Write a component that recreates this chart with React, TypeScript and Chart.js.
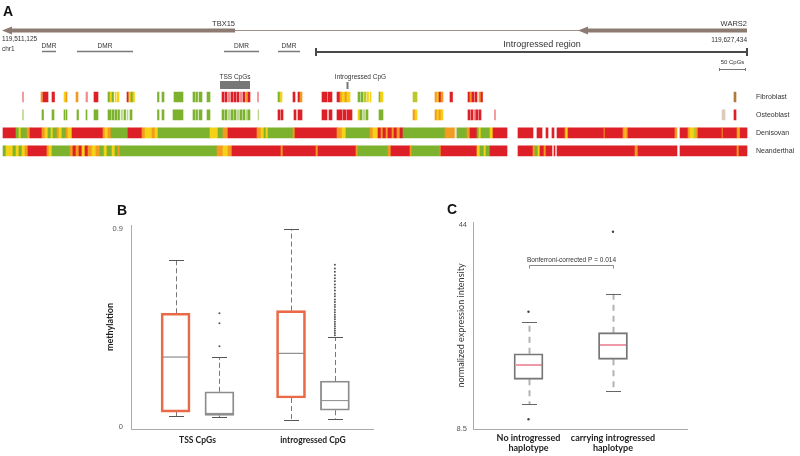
import React, { useEffect, useRef } from 'react';
import { Chart, registerables } from 'chart.js';
Chart.register(...registerables);

// ---------- Panel A data (positions in CpG index along the locus) ----------
type Seg = [number, number, string];
const TRACK_ROWS = ['Fibroblast', 'Osteoblast', 'Denisovan', 'Neanderthal'];
const STATE_COLORS: Record<string, string> = {
  R: '#dd2027', O: '#f39a21', Y: '#f5d217', G: '#7db22e', P: '#f08a8a',
  L: '#bcd88e', K: '#b9c82a', B: '#dccbbd', W: '#e9e6cf', N: '#b07a3a',
};
const FIBROBLAST: Seg[] = [
  [22.5, 23.5, 'P'], [41, 42.5, 'O'], [43, 48, 'R'], [52, 54.5, 'R'], [64, 66, 'Y'], [66, 67, 'O'],
  [76, 78, 'O'], [86, 87.5, 'P'], [94, 98, 'R'], [108, 110, 'G'], [110, 111.5, 'Y'], [112, 113.5, 'G'],
  [115, 116, 'Y'], [117, 119, 'Y'], [127, 128.5, 'R'], [129, 131, 'Y'], [131, 133, 'G'], [133, 134.5, 'Y'],
  [157.5, 159, 'G'], [162, 164, 'G'], [174, 183, 'G'], [193, 195, 'G'], [196, 197.5, 'G'], [199, 202, 'G'],
  [207, 210, 'G'], [222, 224, 'R'], [225, 227, 'R'], [228, 230, 'P'], [231, 233, 'R'], [234, 236, 'R'],
  [237, 239, 'R'], [240, 242, 'P'], [243, 245, 'R'], [246, 247.5, 'O'], [248, 250, 'R'], [257.5, 258.5, 'P'],
  [278, 280, 'G'], [280, 282, 'Y'], [293, 295, 'R'], [298, 300, 'R'], [300, 302, 'O'], [322, 327, 'R'],
  [328, 332, 'R'], [337, 340, 'R'], [340, 342, 'O'], [342, 345, 'Y'], [345, 347, 'O'], [347, 350, 'Y'],
  [358, 360, 'G'], [361, 363, 'G'], [364, 366, 'K'], [367, 368.5, 'Y'], [370, 371, 'Y'], [379, 380.5, 'G'],
  [380.5, 383, 'Y'], [413, 417, 'K'], [435, 437, 'O'], [437, 439, 'Y'], [439, 441, 'R'], [441, 443, 'O'],
  [450, 452.5, 'R'], [468, 470, 'R'], [470, 472, 'O'], [472, 474, 'R'], [475, 477, 'R'], [479, 481, 'O'],
  [481, 482.5, 'R'], [734, 736, 'N'],
];
const OSTEOBLAST: Seg[] = [
  [22.5, 23.5, 'L'], [42, 43.5, 'G'], [52, 54, 'G'], [64, 65, 'G'], [66, 67, 'G'], [77, 78.5, 'G'],
  [86, 87, 'G'], [94, 98, 'G'], [108, 111, 'G'], [112, 114, 'G'], [115, 117, 'G'], [118, 119.5, 'G'],
  [121, 122.5, 'L'], [124, 125.5, 'G'], [127, 128, 'L'], [130, 132, 'G'], [157.5, 159, 'G'], [162, 164, 'G'],
  [173, 183, 'G'], [193, 195, 'G'], [196, 197.5, 'G'], [199, 202, 'G'], [207, 210, 'G'], [222, 224, 'G'],
  [225, 227, 'G'], [228, 230, 'L'], [231, 233, 'G'], [234, 236, 'G'], [237, 239, 'L'], [240, 242, 'G'],
  [243, 245, 'G'], [246, 247.5, 'L'], [248, 250, 'G'], [258, 258.8, 'L'], [278, 280, 'R'], [281, 283, 'R'],
  [294, 296, 'R'], [298, 302, 'R'], [322, 327, 'R'], [329, 332, 'R'], [337, 340, 'R'], [340, 342, 'R'],
  [343, 346, 'R'], [347, 352, 'R'], [358, 360, 'Y'], [360, 362, 'G'], [363, 365, 'L'], [366, 368, 'G'],
  [379, 383, 'G'], [413, 415, 'O'], [415, 417, 'Y'], [435, 437, 'O'], [437, 439, 'Y'], [439, 441, 'O'],
  [441, 443, 'Y'], [468, 470, 'R'], [471, 473, 'R'], [474, 476, 'P'], [476, 478, 'R'], [479, 481, 'R'],
  [494.5, 495.5, 'P'], [722, 725, 'B'], [734, 736, 'R'],
];
const DENISOVAN: Seg[] = [
  [3, 16, 'R'], [16, 19, 'G'], [19, 21, 'Y'], [21, 27, 'G'], [27, 30, 'O'], [30, 42, 'R'], [42, 45, 'O'],
  [45, 48, 'Y'], [48, 51, 'G'], [51, 53, 'Y'], [53, 57, 'G'], [57, 59, 'O'], [59, 62, 'Y'], [62, 66, 'G'],
  [66, 68, 'O'], [68, 72, 'Y'], [72, 103, 'R'], [103, 105, 'O'], [105, 108, 'Y'], [108, 111, 'O'],
  [111, 128, 'G'], [128, 142, 'R'], [142, 145, 'O'], [145, 152, 'Y'], [152, 155, 'O'], [155, 158, 'Y'],
  [158, 210, 'G'], [210, 218, 'Y'], [218, 223, 'G'], [223, 228, 'O'], [228, 257, 'R'], [257, 261, 'O'],
  [261, 264, 'Y'], [264, 266, 'G'], [266, 268, 'Y'], [268, 293, 'G'], [293, 295, 'O'], [295, 337, 'R'],
  [337, 342, 'O'], [342, 346, 'Y'], [346, 370, 'G'], [370, 373, 'O'], [373, 378, 'Y'], [378, 381, 'R'],
  [381, 383, 'O'], [383, 386, 'R'], [386, 388, 'O'], [388, 392, 'R'], [392, 394, 'O'], [394, 397, 'R'],
  [397, 400, 'O'], [400, 403, 'R'], [403, 445, 'G'], [445, 455, 'O'], [455, 457, 'W'], [457, 467, 'G'],
  [467, 470, 'O'], [470, 477, 'R'], [477, 479, 'G'], [479, 481, 'Y'], [481, 490, 'G'], [490, 493, 'Y'],
  [493, 507, 'R'], [518, 533, 'R'], [537, 542, 'R'], [546, 548, 'R'], [552, 554, 'R'], [557, 565, 'R'],
  [565, 566, 'O'], [566, 568, 'Y'], [568, 604, 'R'], [604, 605, 'O'], [605, 623, 'R'], [623, 625, 'O'],
  [625, 626, 'Y'], [626, 628, 'O'], [628, 675, 'R'], [675, 677, 'O'], [680, 688, 'R'], [688, 690, 'O'],
  [690, 694, 'Y'], [694, 696, 'K'], [696, 698, 'O'], [698, 722, 'R'], [722, 723, 'O'], [723, 737, 'R'],
  [737, 739, 'O'], [739, 740, 'Y'], [740, 747, 'R'],
];
const NEANDERTHAL: Seg[] = [
  [3, 6, 'G'], [6, 13, 'Y'], [13, 16, 'G'], [16, 19, 'Y'], [19, 22, 'G'], [22, 25, 'Y'], [25, 28, 'O'],
  [28, 47, 'R'], [47, 49, 'O'], [49, 52, 'Y'], [52, 70, 'G'], [70, 73, 'O'], [73, 76, 'R'], [76, 79, 'O'],
  [79, 82, 'R'], [82, 85, 'Y'], [85, 88, 'R'], [88, 92, 'O'], [92, 96, 'Y'], [96, 100, 'O'], [100, 104, 'G'],
  [104, 107, 'Y'], [107, 112, 'G'], [112, 115, 'Y'], [115, 118, 'G'], [118, 120, 'O'], [120, 217, 'G'],
  [217, 223, 'O'], [223, 228, 'Y'], [228, 232, 'O'], [232, 281, 'R'], [281, 283, 'O'], [283, 316, 'R'],
  [316, 318, 'O'], [318, 356, 'R'], [356, 358, 'O'], [358, 388, 'G'], [388, 391, 'O'], [391, 410, 'R'],
  [410, 412, 'O'], [412, 440, 'G'], [440, 441, 'O'], [441, 477, 'R'], [477, 480, 'Y'], [480, 484, 'G'],
  [484, 486, 'Y'], [486, 490, 'G'], [490, 507, 'R'], [518, 533, 'R'], [533, 535, 'O'], [535, 538, 'G'],
  [538, 540, 'Y'], [540, 544, 'R'], [544, 546, 'O'], [546, 552, 'R'], [554, 555, 'R'], [557, 635, 'R'],
  [635, 638, 'O'], [638, 677, 'R'], [680, 737, 'R'], [737, 739, 'O'], [739, 747, 'R'],
];
const TRACK_DATA: Seg[][] = [FIBROBLAST, OSTEOBLAST, DENISOVAN, NEANDERTHAL];

const GENES = [
  { name: 'TBX15', start: 3, end: 235 },
  { name: 'WARS2', start: 579, end: 747 },
];
const DMRS: [number, number][] = [[42, 56], [77, 133], [224, 259], [278, 300]];
const INTROGRESSED_REGION: [number, number] = [316, 747];
const TSS_CPGS: [number, number] = [220, 250];
const INTROGRESSED_CPG = 347.5;
const SCALE_BAR: [number, number] = [719, 746];
const COORD_START = '119,511,125';
const COORD_END = '119,627,434';
const CHROM = 'chr1';

// ---------- Panel B data: [whiskerLow, q1, median, q3, whiskerHigh] ----------
const B_CATEGORIES = ['TSS CpGs', 'introgressed CpG'];
const B_ORANGE = [
  [0.049, 0.068, 0.318, 0.517, 0.759],
  [0.032, 0.132, 0.335, 0.529, 0.9],
];
const B_GRAY = [
  [0.044, 0.053, 0.062, 0.16, 0.317],
  [0.035, 0.076, 0.12, 0.209, 0.409],
];
const B_OUTLIERS_TSS = [0.367, 0.471, 0.517];
const B_OUTLIERS_INTRO = [
  0.417, 0.427, 0.437, 0.448, 0.458, 0.468, 0.478, 0.49, 0.5, 0.51, 0.522, 0.533, 0.545, 0.556,
  0.568, 0.58, 0.594, 0.606, 0.62, 0.634, 0.648, 0.662, 0.676, 0.69, 0.705, 0.72, 0.737,
];
const B_TICKS = [0, 0.9];

// ---------- Panel C data ----------
const C_CATEGORIES = [['No introgressed', 'haplotype'], ['carrying introgressed', 'haplotype']];
const C_BOXES = [
  [12.75, 17.11, 19.6, 21.57, 27.15],
  [15.07, 20.59, 23.09, 25.23, 32.03],
];
const C_OUTLIERS = [[28.89, 10.14], [42.83]];
const C_TICKS = [8.5, 44];
const C_PVALUE_LABEL = 'Bonferroni-corrected P = 0.014';
const C_BRACKET_Y = 37;

const SANS = '"Liberation Sans", Arial, sans-serif';
const LATO = 'Lato, "Open Sans", sans-serif';

type BoxDef = { pos: number; s: number[]; width: number; median: string; medianWidth: number; whisker: string; whiskerWidth: number; dash: number[]; cap: string; capWidth: number };

function drawBoxes(chart: any, boxes: BoxDef[]) {
  const ctx = chart.ctx;
  const xs = chart.scales.x;
  const ys = chart.scales.y;
  ctx.save();
  for (const b of boxes) {
    const cx = Math.round(xs.getPixelForValue(b.pos)) + 0.5;
    const [lo, q1, med, q3, hi] = b.s.map((v: number) => ys.getPixelForValue(v));
    ctx.strokeStyle = b.whisker;
    ctx.lineWidth = b.whiskerWidth;
    ctx.setLineDash(b.dash);
    ctx.beginPath();
    ctx.moveTo(cx, q3); ctx.lineTo(cx, hi);
    ctx.moveTo(cx, q1); ctx.lineTo(cx, lo);
    ctx.stroke();
    ctx.setLineDash([]);
    ctx.strokeStyle = b.cap;
    ctx.lineWidth = 1;
    ctx.beginPath();
    ctx.moveTo(cx - b.capWidth / 2, Math.round(hi) + 0.5); ctx.lineTo(cx + b.capWidth / 2, Math.round(hi) + 0.5);
    ctx.moveTo(cx - b.capWidth / 2, Math.round(lo) + 0.5); ctx.lineTo(cx + b.capWidth / 2, Math.round(lo) + 0.5);
    ctx.stroke();
    ctx.strokeStyle = b.median;
    ctx.lineWidth = b.medianWidth;
    ctx.beginPath();
    ctx.moveTo(cx - b.width / 2 + 1, med); ctx.lineTo(cx + b.width / 2 - 1, med);
    ctx.stroke();
  }
  ctx.restore();
}

export default function App() {
  const refA = useRef<HTMLCanvasElement>(null);
  const refB = useRef<HTMLCanvasElement>(null);
  const refC = useRef<HTMLCanvasElement>(null);

  useEffect(() => {
    // ---------------- Panel A ----------------
    const trackPlugin = {
      id: 'trackAnnotations',
      afterDraw(chart: any) {
        const ctx = chart.ctx;
        const xs = chart.scales.x;
        const px = (v: number) => xs.getPixelForValue(v);
        ctx.save();
        ctx.fillStyle = '#111';
        ctx.font = `bold 14px ${SANS}`;
        ctx.textAlign = 'left';
        ctx.textBaseline = 'alphabetic';
        ctx.fillText('A', 3, 16);

        ctx.strokeStyle = '#a09088';
        ctx.lineWidth = 1;
        ctx.beginPath();
        ctx.moveTo(px(GENES[0].start), 30.5);
        ctx.lineTo(px(GENES[GENES.length - 1].end), 30.5);
        ctx.stroke();

        for (const g of GENES) {
          const x0 = px(g.start), x1 = px(g.end);
          ctx.fillStyle = '#8c7b72';
          ctx.fillRect(x0 + 8, 28.5, x1 - x0 - 8, 4);
          ctx.beginPath();
          ctx.moveTo(x0 - 1, 30.5);
          ctx.lineTo(x0 + 9, 26.5);
          ctx.lineTo(x0 + 9, 34.5);
          ctx.closePath();
          ctx.fill();
          ctx.fillStyle = '#333';
          ctx.font = `7.5px ${SANS}`;
          ctx.textAlign = 'right';
          ctx.fillText(g.name, x1, 25.5);
        }

        ctx.fillStyle = '#333';
        ctx.font = `6.5px ${SANS}`;
        ctx.textAlign = 'left';
        ctx.fillText(COORD_START, px(GENES[0].start) - 1, 41);
        ctx.fillText(CHROM, px(GENES[0].start) - 1, 51);
        ctx.textAlign = 'right';
        ctx.fillText(COORD_END, px(GENES[GENES.length - 1].end), 42);

        ctx.strokeStyle = '#7a7a7a';
        ctx.lineWidth = 1.5;
        ctx.font = `6.5px ${SANS}`;
        ctx.textAlign = 'center';
        for (const [a, b] of DMRS) {
          ctx.beginPath();
          ctx.moveTo(px(a), 51.5);
          ctx.lineTo(px(b), 51.5);
          ctx.stroke();
          ctx.fillText('DMR', (px(a) + px(b)) / 2, 48);
        }

        const r0 = px(INTROGRESSED_REGION[0]), r1 = px(INTROGRESSED_REGION[1]);
        ctx.strokeStyle = '#4a4a4a';
        ctx.lineWidth = 2;
        ctx.beginPath();
        ctx.moveTo(r0, 52); ctx.lineTo(r1, 52);
        ctx.moveTo(r0, 48); ctx.lineTo(r0, 56);
        ctx.moveTo(r1, 48); ctx.lineTo(r1, 56);
        ctx.stroke();
        ctx.fillStyle = '#333';
        ctx.font = `9px ${SANS}`;
        ctx.textAlign = 'center';
        ctx.fillText('Introgressed region', 542, 47);

        const s0 = px(SCALE_BAR[0]), s1 = px(SCALE_BAR[1]);
        ctx.font = `6px ${SANS}`;
        ctx.fillText('50 CpGs', (s0 + s1) / 2, 64);
        ctx.strokeStyle = '#777';
        ctx.lineWidth = 1;
        ctx.beginPath();
        ctx.moveTo(s0, 69.5); ctx.lineTo(s1, 69.5);
        ctx.moveTo(s0 + 0.5, 68); ctx.lineTo(s0 + 0.5, 71);
        ctx.moveTo(s1 - 0.5, 68); ctx.lineTo(s1 - 0.5, 71);
        ctx.stroke();

        const t0 = px(TSS_CPGS[0]), t1 = px(TSS_CPGS[1]);
        ctx.fillStyle = '#777';
        ctx.fillRect(t0, 81, t1 - t0, 8);
        ctx.fillRect(px(INTROGRESSED_CPG) - 1, 82, 2, 7);
        ctx.fillStyle = '#333';
        ctx.font = `6.5px ${SANS}`;
        ctx.fillText('TSS CpGs', (t0 + t1) / 2, 79);
        ctx.fillText('Introgressed CpG', px(INTROGRESSED_CPG) + 13, 79);
        ctx.restore();
      },
    };

    const chartA = new Chart(refA.current!, {
      type: 'bar',
      data: {
        labels: TRACK_ROWS,
        datasets: TRACK_DATA.map((segs, i) => ({
          data: segs.map((s) => ({ x: [s[0], s[1]], y: TRACK_ROWS[i] })),
          backgroundColor: segs.map((s) => STATE_COLORS[s[2]]),
          borderWidth: 0,
          grouped: false,
          barThickness: 10,
        })) as any,
      },
      options: {
        indexAxis: 'y',
        responsive: false,
        animation: false,
        layout: { padding: { left: 0, right: 0, top: 88, bottom: 6 } },
        plugins: { legend: { display: false }, tooltip: { enabled: false } },
        scales: {
          x: { type: 'linear', min: 0, max: 750, display: false, offset: false },
          y: {
            type: 'category',
            position: 'right',
            grid: { display: false, drawTicks: false },
            border: { display: false },
            ticks: { font: { family: SANS, size: 7 }, color: '#333', padding: 6 },
            afterFit: (s: any) => { s.width = 50; },
          },
        },
      } as any,
      plugins: [trackPlugin],
    });

    // ---------------- Panel B ----------------
    const B_OFF = 0.19;
    const B_W = 29;
    const boxesB: BoxDef[] = [
      ...B_ORANGE.map((s, i) => ({ pos: i + 1 - B_OFF, s, width: B_W, median: '#777', medianWidth: 1, whisker: '#777', whiskerWidth: 1, dash: [5, 3], cap: '#555', capWidth: 15 })),
      ...B_GRAY.map((s, i) => ({ pos: i + 1 + B_OFF, s, width: B_W, median: '#888', medianWidth: 1, whisker: '#777', whiskerWidth: 1, dash: [5, 3], cap: '#555', capWidth: 15 })),
    ];
    const pluginB = {
      id: 'boxB',
      beforeDatasetsDraw(chart: any) { drawBoxes(chart, boxesB); },
      afterDraw(chart: any) {
        const ctx = chart.ctx;
        ctx.save();
        ctx.fillStyle = '#111';
        ctx.font = `bold 14px ${SANS}`;
        ctx.textAlign = 'left';
        ctx.fillText('B', 17, 25);
        ctx.restore();
      },
    };
    const chartB = new Chart(refB.current!, {
      type: 'bar',
      data: {
        datasets: [
          {
            type: 'bar',
            data: B_ORANGE.map((s, i) => ({ x: i + 1 - B_OFF, y: [s[1], s[3]] })),
            backgroundColor: 'rgba(255,255,255,0)',
            borderColor: '#ea6a48',
            borderWidth: 2,
            borderSkipped: false,
            grouped: false,
            barThickness: B_W,
          },
          {
            type: 'bar',
            data: B_GRAY.map((s, i) => ({ x: i + 1 + B_OFF, y: [s[1], s[3]] })),
            backgroundColor: 'rgba(255,255,255,0)',
            borderColor: '#8c8c8c',
            borderWidth: 1.2,
            borderSkipped: false,
            grouped: false,
            barThickness: B_W,
          },
          {
            type: 'scatter',
            data: [
              ...B_OUTLIERS_TSS.map((v) => ({ x: 1 + B_OFF, y: v })),
              ...B_OUTLIERS_INTRO.map((v) => ({ x: 2 + B_OFF, y: v })),
            ],
            pointRadius: 1,
            pointBackgroundColor: '#555',
            pointBorderWidth: 0,
          },
        ] as any,
      },
      options: {
        responsive: false,
        animation: false,
        layout: { padding: { left: 0, right: 27, top: 35, bottom: 0 } },
        plugins: { legend: { display: false }, tooltip: { enabled: false } },
        scales: {
          x: {
            type: 'linear', min: 0.424, max: 2.52, offset: false,
            grid: { display: false, drawTicks: false },
            border: { color: '#aaa' },
            afterBuildTicks: (s: any) => { s.ticks = B_CATEGORIES.map((_, i) => ({ value: i + 1 })); },
            ticks: {
              callback: (v: any) => B_CATEGORIES[Math.round(v) - 1],
              font: { family: LATO, size: 8.5, weight: 'bold' }, color: '#222', padding: 6, maxRotation: 0, autoSkip: false,
            },
            afterFit: (s: any) => { s.height = 27; },
          },
          y: {
            type: 'linear', min: -0.009, max: 0.918,
            grid: { display: false, drawTicks: false },
            border: { color: '#aaa' },
            afterBuildTicks: (s: any) => { s.ticks = B_TICKS.map((v) => ({ value: v })); },
            ticks: { callback: (v: any) => String(v), font: { family: SANS, size: 7.5 }, color: '#555', padding: 8 },
            title: { display: true, text: 'methylation', font: { family: LATO, size: 9, weight: 'bold' }, color: '#222', padding: { top: 5, bottom: 0 } },
            afterFit: (s: any) => { s.width = 31; },
          },
        },
      } as any,
      plugins: [pluginB],
    });

    // ---------------- Panel C ----------------
    const C_W = 29;
    const boxesC: BoxDef[] = C_BOXES.map((s, i) => ({ pos: i + 1, s, width: C_W, median: '#e8798a', medianWidth: 1.5, whisker: '#b3b3b3', whiskerWidth: 2, dash: [6, 5], cap: '#666', capWidth: 15 }));
    const pluginC = {
      id: 'boxC',
      beforeDatasetsDraw(chart: any) { drawBoxes(chart, boxesC); },
      afterDraw(chart: any) {
        const ctx = chart.ctx;
        const xs = chart.scales.x, ys = chart.scales.y;
        ctx.save();
        ctx.fillStyle = '#111';
        ctx.font = `bold 14px ${SANS}`;
        ctx.textAlign = 'left';
        ctx.fillText('C', 17, 24);
        const x0 = Math.round(xs.getPixelForValue(1)) + 0.5, x1 = Math.round(xs.getPixelForValue(2)) + 0.5;
        const y = Math.round(ys.getPixelForValue(C_BRACKET_Y)) + 0.5;
        ctx.strokeStyle = '#888';
        ctx.lineWidth = 1;
        ctx.beginPath();
        ctx.moveTo(x0, y + 3); ctx.lineTo(x0, y); ctx.lineTo(x1, y); ctx.lineTo(x1, y + 3);
        ctx.stroke();
        ctx.fillStyle = '#333';
        ctx.font = `6.5px ${SANS}`;
        ctx.textAlign = 'center';
        ctx.fillText(C_PVALUE_LABEL, (x0 + x1) / 2, y - 4);
        ctx.restore();
      },
    };
    const chartC = new Chart(refC.current!, {
      type: 'bar',
      data: {
        datasets: [
          {
            type: 'bar',
            data: C_BOXES.map((s, i) => ({ x: i + 1, y: [s[1], s[3]] })),
            backgroundColor: 'rgba(255,255,255,0)',
            borderColor: '#777',
            borderWidth: 1.2,
            borderSkipped: false,
            grouped: false,
            barThickness: C_W,
          },
          {
            type: 'scatter',
            data: C_OUTLIERS.flatMap((arr, i) => arr.map((v) => ({ x: i + 1, y: v }))),
            pointRadius: 1.2,
            pointBackgroundColor: '#444',
            pointBorderWidth: 0,
          },
        ] as any,
      },
      options: {
        responsive: false,
        animation: false,
        layout: { padding: { left: 0, right: 13, top: 32, bottom: 0 } },
        plugins: { legend: { display: false }, tooltip: { enabled: false } },
        scales: {
          x: {
            type: 'linear', min: 0.343, max: 2.876, offset: false,
            grid: { display: false, drawTicks: false },
            border: { color: '#aaa' },
            afterBuildTicks: (s: any) => { s.ticks = C_CATEGORIES.map((_, i) => ({ value: i + 1 })); },
            ticks: {
              callback: (v: any) => C_CATEGORIES[Math.round(v) - 1],
              font: { family: LATO, size: 9, weight: 'bold', lineHeight: 1.15 }, color: '#222', padding: 4, maxRotation: 0, autoSkip: false,
            },
            afterFit: (s: any) => { s.height = 27; },
          },
          y: {
            type: 'linear', min: 8.45, max: 44.52,
            grid: { display: false, drawTicks: false },
            border: { color: '#aaa' },
            afterBuildTicks: (s: any) => { s.ticks = C_TICKS.map((v) => ({ value: v })); },
            ticks: { callback: (v: any) => String(v), font: { family: SANS, size: 7.5 }, color: '#555', padding: 6 },
            title: { display: true, text: 'normalized expression intensity', font: { family: LATO, size: 9 }, color: '#333', padding: { top: 26, bottom: 0 } },
            afterFit: (s: any) => { s.width = 43; },
          },
        },
      } as any,
      plugins: [pluginC],
    });

    return () => {
      chartA.destroy();
      chartB.destroy();
      chartC.destroy();
    };
  }, []);

  return (
    <div style={{ position: 'absolute', left: 0, top: 0, width: 800, height: 456, background: '#fff', overflow: 'hidden' }}>
      <canvas ref={refA} width={800} height={170} style={{ position: 'absolute', left: 0, top: 0, width: 800, height: 170 }} />
      <canvas ref={refB} width={300} height={266} style={{ position: 'absolute', left: 100, top: 190, width: 300, height: 266 }} />
      <canvas ref={refC} width={270} height={266} style={{ position: 'absolute', left: 430, top: 190, width: 270, height: 266 }} />
    </div>
  );
}
